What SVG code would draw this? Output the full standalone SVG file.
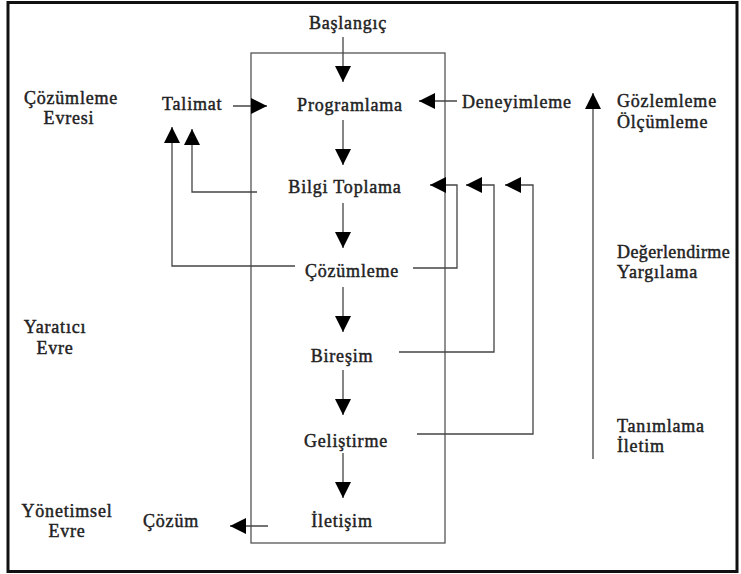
<svg xmlns="http://www.w3.org/2000/svg" width="741" height="574" viewBox="0 0 741 574">
<style>
text{font-family:'Liberation Serif','Times New Roman',serif;font-weight:400;font-size:18px;fill:#222;stroke:#222;stroke-width:0.45px;letter-spacing:0.8px}
.m{text-anchor:middle}
.tight{letter-spacing:0.4px}
.ln{fill:none;stroke:#444;stroke-width:1.3}
.frame{fill:none;stroke:#111;stroke-width:3}
.box{fill:none;stroke:#555;stroke-width:1.3}
</style>
<defs>
<marker id="ah" markerUnits="userSpaceOnUse" markerWidth="16" markerHeight="16" refX="15" refY="7.5" orient="auto" viewBox="0 0 15 15">
<path d="M0,0 L15,7.5 L0,15 z" fill="#000"/>
</marker>
</defs>
<rect fill="#fff" x="0" y="0" width="741" height="574"/>
<rect class="frame" x="8" y="2.5" width="729" height="569"/>
<rect id="process-box" class="box" x="251" y="53" width="194" height="490"/>

<g id="connectors" class="ln" marker-end="url(#ah)">
<path d="M343,37 V82"/>
<path d="M343,120 V165"/>
<path d="M343,203 V248"/>
<path d="M343,287 V332"/>
<path d="M343,370 V415"/>
<path d="M343,453 V498"/>
<path d="M268,526 H230"/>
<path d="M233,106 H267"/>
<path d="M457,101 H419"/>
<path d="M257,192 H192 V129"/>
<path d="M295,266 H172 V127"/>
<path d="M413,268 H457 V185 H430"/>
<path d="M399,352 H494 V185 H466"/>
<path d="M417,434 H533 V185 H505"/>
<path d="M593,459 V93"/>
</g>

<g id="baslangic"><text class="m" x="348" y="29">Başlangıç</text></g>
<g id="programlama"><text class="m" x="350" y="111">Programlama</text></g>
<g id="bilgi-toplama"><text class="m" x="345" y="193">Bilgi Toplama</text></g>
<g id="cozumleme"><text class="m" x="352" y="277">Çözümleme</text></g>
<g id="biresim"><text class="m" x="342" y="362">Bireşim</text></g>
<g id="gelistirme"><text class="m" x="346" y="447">Geliştirme</text></g>
<g id="iletisim"><text class="m" x="342" y="527">İletişim</text></g>
<g id="talimat"><text x="162" y="110">Talimat</text></g>
<g id="deneyimleme"><text x="462" y="108">Deneyimleme</text></g>
<g id="cozum"><text x="143" y="527">Çözüm</text></g>

<g id="cozumleme-evresi"><text class="m" x="71" y="104">Çözümleme</text><text class="m" x="69" y="124">Evresi</text></g>
<g id="yaratici-evre"><text class="m" x="55" y="333">Yaratıcı</text><text class="m" x="55" y="354">Evre</text></g>
<g id="yonetimsel-evre"><text class="m" x="67" y="517">Yönetimsel</text><text class="m" x="67" y="537">Evre</text></g>

<g id="gozlemleme"><text x="617" y="107">Gözlemleme</text><text x="617" y="128">Ölçümleme</text></g>
<g id="degerlendirme"><text class="tight" x="617" y="258">Değerlendirme</text><text x="617" y="278">Yargılama</text></g>
<g id="tanimlama"><text x="617" y="432">Tanımlama</text><text x="617" y="452">İletim</text></g>
</svg>
